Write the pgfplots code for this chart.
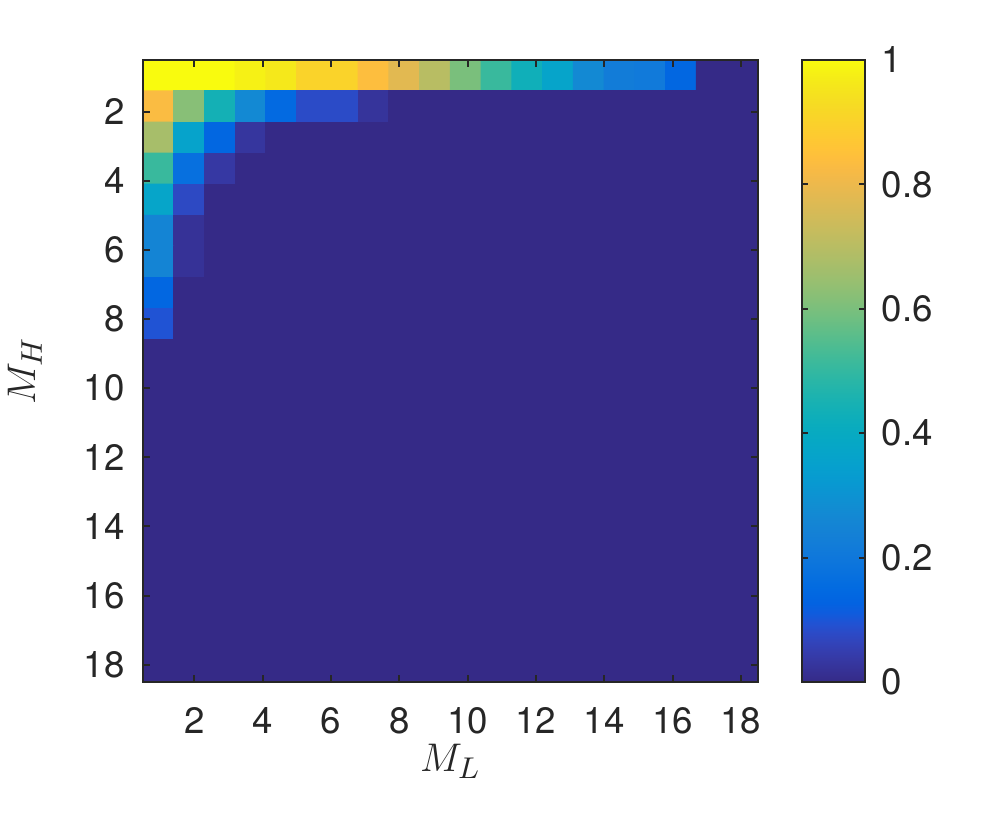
\documentclass[border=0pt]{standalone}
\usepackage{pgfplots}
\usepackage{pgfplotstable}
\pgfplotsset{compat=1.18}
\usepackage{fontspec}
\setmainfont{TeX Gyre Heros}
\definecolor{axgray}{rgb}{0.15,0.15,0.15}
\pgfplotsset{colormap={parula}{
rgb=(0.2081,0.1663,0.5292) rgb=(0.2116,0.1898,0.5777) rgb=(0.2123,0.2138,0.6270) rgb=(0.2081,0.2386,0.6771)
rgb=(0.1959,0.2645,0.7279) rgb=(0.1707,0.2919,0.7792) rgb=(0.1253,0.3242,0.8303) rgb=(0.0591,0.3598,0.8683)
rgb=(0.0117,0.3875,0.8820) rgb=(0.0060,0.4086,0.8828) rgb=(0.0165,0.4266,0.8786) rgb=(0.0329,0.4430,0.8720)
rgb=(0.0498,0.4586,0.8641) rgb=(0.0629,0.4737,0.8554) rgb=(0.0723,0.4887,0.8467) rgb=(0.0779,0.5040,0.8384)
rgb=(0.0793,0.5200,0.8312) rgb=(0.0749,0.5375,0.8263) rgb=(0.0641,0.5570,0.8240) rgb=(0.0488,0.5772,0.8228)
rgb=(0.0343,0.5966,0.8199) rgb=(0.0265,0.6137,0.8135) rgb=(0.0239,0.6287,0.8038) rgb=(0.0231,0.6418,0.7913)
rgb=(0.0228,0.6535,0.7768) rgb=(0.0267,0.6642,0.7607) rgb=(0.0384,0.6743,0.7436) rgb=(0.0590,0.6838,0.7254)
rgb=(0.0843,0.6928,0.7062) rgb=(0.1133,0.7015,0.6859) rgb=(0.1453,0.7098,0.6646) rgb=(0.1801,0.7177,0.6424)
rgb=(0.2178,0.7250,0.6193) rgb=(0.2586,0.7317,0.5954) rgb=(0.3022,0.7376,0.5712) rgb=(0.3482,0.7424,0.5473)
rgb=(0.3953,0.7459,0.5244) rgb=(0.4420,0.7481,0.5033) rgb=(0.4871,0.7491,0.4840) rgb=(0.5300,0.7491,0.4661)
rgb=(0.5709,0.7485,0.4494) rgb=(0.6099,0.7473,0.4337) rgb=(0.6473,0.7456,0.4188) rgb=(0.6834,0.7435,0.4044)
rgb=(0.7184,0.7411,0.3905) rgb=(0.7525,0.7384,0.3768) rgb=(0.7858,0.7356,0.3633) rgb=(0.8185,0.7327,0.3498)
rgb=(0.8507,0.7299,0.3360) rgb=(0.8824,0.7274,0.3217) rgb=(0.9139,0.7258,0.3063) rgb=(0.9450,0.7261,0.2886)
rgb=(0.9739,0.7314,0.2666) rgb=(0.9938,0.7455,0.2403) rgb=(0.9990,0.7653,0.2164) rgb=(0.9955,0.7861,0.1967)
rgb=(0.9880,0.8066,0.1794) rgb=(0.9789,0.8271,0.1633) rgb=(0.9697,0.8481,0.1475) rgb=(0.9626,0.8705,0.1309)
rgb=(0.9589,0.8949,0.1132) rgb=(0.9598,0.9218,0.0948) rgb=(0.9661,0.9514,0.0755) rgb=(0.9763,0.9831,0.0538)
}}
\pgfplotstableread{
i j c
1 1 1.00
2 1 1.00
3 1 1.00
4 1 0.98
5 1 0.96
6 1 0.905
7 1 0.905
8 1 0.84
9 1 0.78
10 1 0.70
11 1 0.60
12 1 0.51
13 1 0.43
14 1 0.365
15 1 0.27
16 1 0.22
17 1 0.21
18 1 0.14
19 1 0
20 1 0
1 2 0.83
2 2 0.62
3 2 0.44
4 2 0.27
5 2 0.15
6 2 0.08
7 2 0.08
8 2 0.025
9 2 0
10 2 0
11 2 0
12 2 0
13 2 0
14 2 0
15 2 0
16 2 0
17 2 0
18 2 0
19 2 0
20 2 0
1 3 0.67
2 3 0.36
3 3 0.14
4 3 0.03
5 3 0
6 3 0
7 3 0
8 3 0
9 3 0
10 3 0
11 3 0
12 3 0
13 3 0
14 3 0
15 3 0
16 3 0
17 3 0
18 3 0
19 3 0
20 3 0
1 4 0.51
2 4 0.17
3 4 0.035
4 4 0
5 4 0
6 4 0
7 4 0
8 4 0
9 4 0
10 4 0
11 4 0
12 4 0
13 4 0
14 4 0
15 4 0
16 4 0
17 4 0
18 4 0
19 4 0
20 4 0
1 5 0.37
2 5 0.075
3 5 0
4 5 0
5 5 0
6 5 0
7 5 0
8 5 0
9 5 0
10 5 0
11 5 0
12 5 0
13 5 0
14 5 0
15 5 0
16 5 0
17 5 0
18 5 0
19 5 0
20 5 0
1 6 0.25
2 6 0.02
3 6 0
4 6 0
5 6 0
6 6 0
7 6 0
8 6 0
9 6 0
10 6 0
11 6 0
12 6 0
13 6 0
14 6 0
15 6 0
16 6 0
17 6 0
18 6 0
19 6 0
20 6 0
1 7 0.25
2 7 0.02
3 7 0
4 7 0
5 7 0
6 7 0
7 7 0
8 7 0
9 7 0
10 7 0
11 7 0
12 7 0
13 7 0
14 7 0
15 7 0
16 7 0
17 7 0
18 7 0
19 7 0
20 7 0
1 8 0.14
2 8 0
3 8 0
4 8 0
5 8 0
6 8 0
7 8 0
8 8 0
9 8 0
10 8 0
11 8 0
12 8 0
13 8 0
14 8 0
15 8 0
16 8 0
17 8 0
18 8 0
19 8 0
20 8 0
1 9 0.095
2 9 0
3 9 0
4 9 0
5 9 0
6 9 0
7 9 0
8 9 0
9 9 0
10 9 0
11 9 0
12 9 0
13 9 0
14 9 0
15 9 0
16 9 0
17 9 0
18 9 0
19 9 0
20 9 0
1 10 0
2 10 0
3 10 0
4 10 0
5 10 0
6 10 0
7 10 0
8 10 0
9 10 0
10 10 0
11 10 0
12 10 0
13 10 0
14 10 0
15 10 0
16 10 0
17 10 0
18 10 0
19 10 0
20 10 0
1 11 0
2 11 0
3 11 0
4 11 0
5 11 0
6 11 0
7 11 0
8 11 0
9 11 0
10 11 0
11 11 0
12 11 0
13 11 0
14 11 0
15 11 0
16 11 0
17 11 0
18 11 0
19 11 0
20 11 0
1 12 0
2 12 0
3 12 0
4 12 0
5 12 0
6 12 0
7 12 0
8 12 0
9 12 0
10 12 0
11 12 0
12 12 0
13 12 0
14 12 0
15 12 0
16 12 0
17 12 0
18 12 0
19 12 0
20 12 0
1 13 0
2 13 0
3 13 0
4 13 0
5 13 0
6 13 0
7 13 0
8 13 0
9 13 0
10 13 0
11 13 0
12 13 0
13 13 0
14 13 0
15 13 0
16 13 0
17 13 0
18 13 0
19 13 0
20 13 0
1 14 0
2 14 0
3 14 0
4 14 0
5 14 0
6 14 0
7 14 0
8 14 0
9 14 0
10 14 0
11 14 0
12 14 0
13 14 0
14 14 0
15 14 0
16 14 0
17 14 0
18 14 0
19 14 0
20 14 0
1 15 0
2 15 0
3 15 0
4 15 0
5 15 0
6 15 0
7 15 0
8 15 0
9 15 0
10 15 0
11 15 0
12 15 0
13 15 0
14 15 0
15 15 0
16 15 0
17 15 0
18 15 0
19 15 0
20 15 0
1 16 0
2 16 0
3 16 0
4 16 0
5 16 0
6 16 0
7 16 0
8 16 0
9 16 0
10 16 0
11 16 0
12 16 0
13 16 0
14 16 0
15 16 0
16 16 0
17 16 0
18 16 0
19 16 0
20 16 0
1 17 0
2 17 0
3 17 0
4 17 0
5 17 0
6 17 0
7 17 0
8 17 0
9 17 0
10 17 0
11 17 0
12 17 0
13 17 0
14 17 0
15 17 0
16 17 0
17 17 0
18 17 0
19 17 0
20 17 0
1 18 0
2 18 0
3 18 0
4 18 0
5 18 0
6 18 0
7 18 0
8 18 0
9 18 0
10 18 0
11 18 0
12 18 0
13 18 0
14 18 0
15 18 0
16 18 0
17 18 0
18 18 0
19 18 0
20 18 0
1 19 0
2 19 0
3 19 0
4 19 0
5 19 0
6 19 0
7 19 0
8 19 0
9 19 0
10 19 0
11 19 0
12 19 0
13 19 0
14 19 0
15 19 0
16 19 0
17 19 0
18 19 0
19 19 0
20 19 0
1 20 0
2 20 0
3 20 0
4 20 0
5 20 0
6 20 0
7 20 0
8 20 0
9 20 0
10 20 0
11 20 0
12 20 0
13 20 0
14 20 0
15 20 0
16 20 0
17 20 0
18 20 0
19 20 0
20 20 0
}\heat
\begin{document}
\begin{tikzpicture}
\path[use as bounding box] (-42.9pt,-40.5pt) rectangle (256.2pt,204.6pt);
\begin{axis}[
  at={(0,0)}, anchor=south west,
  width=184.5pt, height=186.6pt, scale only axis,
  xmin=0.5, xmax=18.5, ymin=0.5, ymax=18.5,
  y dir=reverse,
  xtick={2,4,...,18}, ytick={2,4,...,18},
  tick align=inside, major tick length=2.1pt,
  tick style={axgray, line width=0.6pt},
  axis line style={axgray, line width=0.6pt},
  axis on top,
  enlargelimits=false,
  /pgf/number format/assume math mode=true,
  ticklabel style={font=\fontsize{11}{13}\selectfont, text=axgray},
  xticklabel style={yshift=-4pt},
  yticklabel style={xshift=-2pt},
  xlabel={$M_L$}, ylabel={$M_H$},
  label style={font=\fontsize{13}{15}\selectfont, text=axgray},
  xlabel style={at={(axis description cs:0.5,-0.128)}, anchor=center},
  ylabel style={at={(axis description cs:-0.192,0.5)}, anchor=center},
  colormap name=parula,
  point meta min=0, point meta max=1,
  colorbar,
  colorbar/width=18.9pt,
  colorbar shift/.style={xshift=9pt},
  colorbar style={
    width=18.9pt,
    ytick={0,0.2,0.4,0.6,0.8,1},
    tick align=inside, major tick length=1.8pt,
    tick style={axgray, line width=0.6pt},
    axis line style={axgray, line width=0.6pt},
    /pgf/number format/assume math mode=true,
    yticklabel style={font=\fontsize{11}{13}\selectfont, text=axgray, xshift=1.4pt},
  },
]
\addplot[matrix plot*, mesh/cols=20, point meta=explicit]
  table[x expr={0.05+0.9*\thisrow{i}}, y expr={0.05+0.9*\thisrow{j}}, meta=c] {\heat};
\end{axis}
\end{tikzpicture}
\end{document}
